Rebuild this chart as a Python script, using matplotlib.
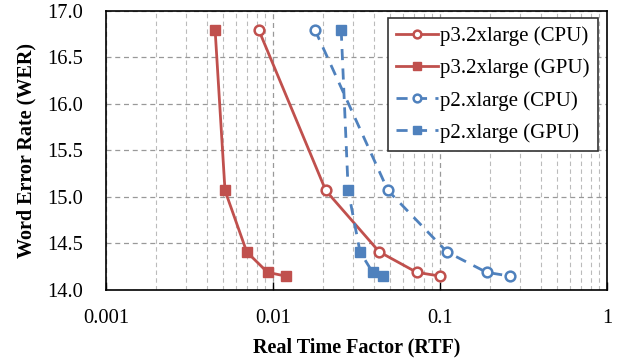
import matplotlib
matplotlib.use("Agg")
import matplotlib.pyplot as plt
from matplotlib.ticker import LogLocator, FixedLocator, FixedFormatter, NullFormatter

plt.rcParams['font.family'] = ['Liberation Serif', 'DejaVu Serif']

wer = [16.8, 15.07, 14.41, 14.19, 14.15]
p3_cpu = [0.0082, 0.0207, 0.0433, 0.0725, 0.100]
p3_gpu = [0.0045, 0.00516, 0.00696, 0.00927, 0.0119]
p2_cpu = [0.0178, 0.0488, 0.110, 0.190, 0.262]
p2_gpu = [0.0256, 0.0282, 0.0332, 0.0395, 0.0457]
labels = ['p3.2xlarge (CPU)', 'p3.2xlarge (GPU)', 'p2.xlarge (CPU)', 'p2.xlarge (GPU)']
xticks = [0.001, 0.01, 0.1, 1]
xtick_labels = ['0.001', '0.01', '0.1', '1']
yticks = [14.0, 14.5, 15.0, 15.5, 16.0, 16.5, 17.0]

red = '#C0504D'
blue = '#4F81BD'

fig = plt.figure(figsize=(6.24, 3.6), dpi=100)
ax = fig.add_axes([106/624, 1-290/360, 501/624, 279/360])

ax.plot(p3_cpu, wer, color=red, lw=2, marker='o', ms=7, mfc='white', mec=red, mew=1.8, label=labels[0], zorder=3)
ax.plot(p3_gpu, wer, color=red, lw=2, marker='s', ms=7, mfc=red, mec=red, label=labels[1], zorder=3)
ax.plot(p2_cpu, wer, color=blue, lw=2, ls=(0, (4, 3)), marker='o', ms=7, mfc='white', mec=blue, mew=1.8, label=labels[2], zorder=3)
ax.plot(p2_gpu, wer, color=blue, lw=2, ls=(0, (4, 3)), marker='s', ms=7, mfc=blue, mec=blue, label=labels[3], zorder=3)

ax.set_xscale('log')
ax.set_xlim(0.001, 1)
ax.set_ylim(14.0, 17.0)
ax.xaxis.set_major_locator(FixedLocator(xticks))
ax.xaxis.set_major_formatter(FixedFormatter(xtick_labels))
ax.xaxis.set_minor_locator(LogLocator(base=10, subs=range(2, 10)))
ax.xaxis.set_minor_formatter(NullFormatter())
ax.set_yticks(yticks)
ax.set_yticklabels([f'{v:.1f}' for v in yticks])

ax.grid(True, which='major', axis='both', color='#999999', ls=(0, (4, 3)), lw=0.9)
ax.grid(True, which='minor', axis='x', color='#BBBBBB', ls=(0, (4, 3)), lw=0.8)
ax.set_axisbelow(True)

ax.tick_params(axis='x', which='major', direction='in', length=6, width=1, labelsize=14.8, pad=13.5)
ax.tick_params(axis='x', which='minor', length=0)
ax.tick_params(axis='y', which='major', length=0, labelsize=14.8, pad=16.5)
for s in ax.spines.values():
    s.set_linewidth(1.2)

ax.set_xlabel('Real Time Factor (RTF)', fontsize=14.5, fontweight='bold', labelpad=7)
ax.set_ylabel('Word Error Rate (WER)', fontsize=14.5, fontweight='bold', labelpad=8)

leg = ax.legend(loc='upper right', bbox_to_anchor=(0.982, 0.975), borderaxespad=0, fontsize=15, frameon=True,
                fancybox=False, edgecolor='#333333', framealpha=1, handlelength=2.0,
                handletextpad=0.1, borderpad=0.4, labelspacing=0.6, markerscale=0.8)
leg.get_frame().set_linewidth(1.2)

fig.savefig('out.png', dpi=100)
